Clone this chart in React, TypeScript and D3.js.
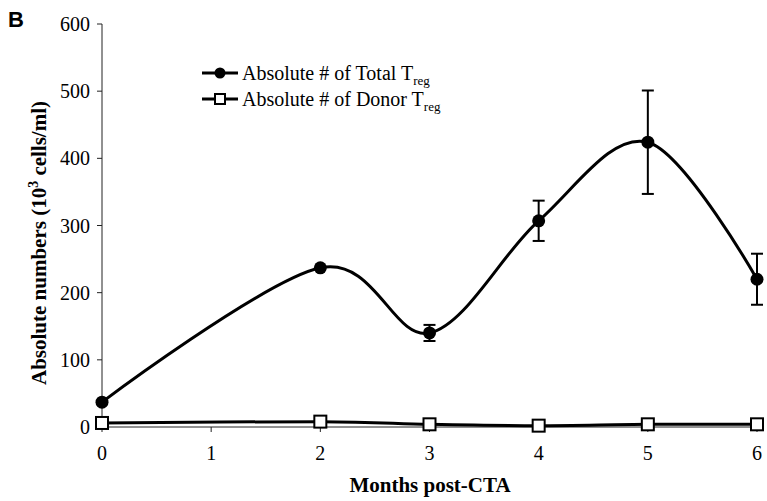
import React from "react";
import * as d3 from "d3";

const months = [0, 2, 3, 4, 5, 6];
const totalTreg = [37, 237, 140, 307, 424, 220];
const totalErr = [0, 0, 12, 30, 77, 38];
const donorTreg = [6, 8, 4, 2, 4, 4];
const xTicks = [0, 1, 2, 3, 4, 5, 6];
const yTicks = [0, 100, 200, 300, 400, 500, 600];

const serif = "'Liberation Serif', 'Times New Roman', serif";

const App = () => {
  const width = 767,
    height = 501;

  const x = d3.scaleLinear().domain([0, 6]).range([102, 757]);
  const y = d3.scaleLinear().domain([0, 600]).range([427, 24]);

  const line = d3
    .line<number>()
    .x((d, i) => x(months[i]))
    .y((d) => y(d))
    .curve(d3.curveCardinal.tension(0));

  return (
    <svg
      width={width}
      height={height}
      style={{ position: "absolute", left: 0, top: 0, background: "#fff" }}
    >
      <text
        x={8}
        y={27}
        fontFamily="'Liberation Sans', Arial, sans-serif"
        fontWeight="bold"
        fontSize={22}
      >
        B
      </text>

      {/* axes */}
      <line x1={x(0)} x2={x(0)} y1={y(600)} y2={y(0)} stroke="#222" strokeWidth={1} />
      <line x1={x(0)} x2={x(6)} y1={y(0)} y2={y(0)} stroke="#222" strokeWidth={1} />
      {yTicks.map((t) => (
        <g key={"y" + t}>
          <line x1={x(0) - 5} x2={x(0)} y1={y(t)} y2={y(t)} stroke="#222" />
          <text
            x={x(0) - 12}
            y={y(t) + 7}
            textAnchor="end"
            fontFamily={serif}
            fontSize={20}
          >
            {t}
          </text>
        </g>
      ))}
      {xTicks.map((t) => (
        <g key={"x" + t}>
          <line x1={x(t)} x2={x(t)} y1={y(0)} y2={y(0) + 5} stroke="#222" />
          <text
            x={x(t)}
            y={y(0) + 33}
            textAnchor="middle"
            fontFamily={serif}
            fontSize={20}
          >
            {t}
          </text>
        </g>
      ))}

      <text
        x={430}
        y={492}
        textAnchor="middle"
        fontFamily={serif}
        fontWeight="bold"
        fontSize={21}
      >
        Months post-CTA
      </text>
      <text
        transform="translate(46,243) rotate(-90)"
        textAnchor="middle"
        fontFamily={serif}
        fontWeight="bold"
        fontSize={21}
      >
        Absolute numbers (10
        <tspan fontSize={14} dy={-8}>3</tspan>
        <tspan dy={8}> cells/ml)</tspan>
      </text>

      {/* donor series */}
      <path d={line(donorTreg) || ""} fill="none" stroke="#000" strokeWidth={3} />
      {donorTreg.map((v, i) => (
        <rect
          key={"d" + i}
          x={x(months[i]) - 6}
          y={y(v) - 6}
          width={12}
          height={12}
          fill="#fff"
          stroke="#000"
          strokeWidth={2}
        />
      ))}

      {/* total series */}
      <path d={line(totalTreg) || ""} fill="none" stroke="#000" strokeWidth={3} />
      {totalTreg.map((v, i) =>
        totalErr[i] > 0 ? (
          <g key={"e" + i} stroke="#000" strokeWidth={2}>
            <line x1={x(months[i])} x2={x(months[i])} y1={y(v + totalErr[i])} y2={y(v - totalErr[i])} />
            <line x1={x(months[i]) - 6} x2={x(months[i]) + 6} y1={y(v + totalErr[i])} y2={y(v + totalErr[i])} />
            <line x1={x(months[i]) - 6} x2={x(months[i]) + 6} y1={y(v - totalErr[i])} y2={y(v - totalErr[i])} />
          </g>
        ) : null
      )}
      {totalTreg.map((v, i) => (
        <circle key={"t" + i} cx={x(months[i])} cy={y(v)} r={6.5} fill="#000" />
      ))}

      {/* legend */}
      <g fontFamily={serif} fontSize={20}>
        <line x1={202} x2={238} y1={73} y2={73} stroke="#000" strokeWidth={3} />
        <circle cx={220} cy={73} r={5.5} fill="#000" />
        <text x={242} y={80}>
          Absolute # of Total T<tspan fontSize={13} dy={5}>reg</tspan>
        </text>
        <line x1={202} x2={238} y1={99} y2={99} stroke="#000" strokeWidth={3} />
        <rect x={215} y={94} width={10} height={10} fill="#fff" stroke="#000" strokeWidth={2} />
        <text x={242} y={106}>
          Absolute # of Donor T<tspan fontSize={13} dy={5}>reg</tspan>
        </text>
      </g>
    </svg>
  );
};

export default App;
